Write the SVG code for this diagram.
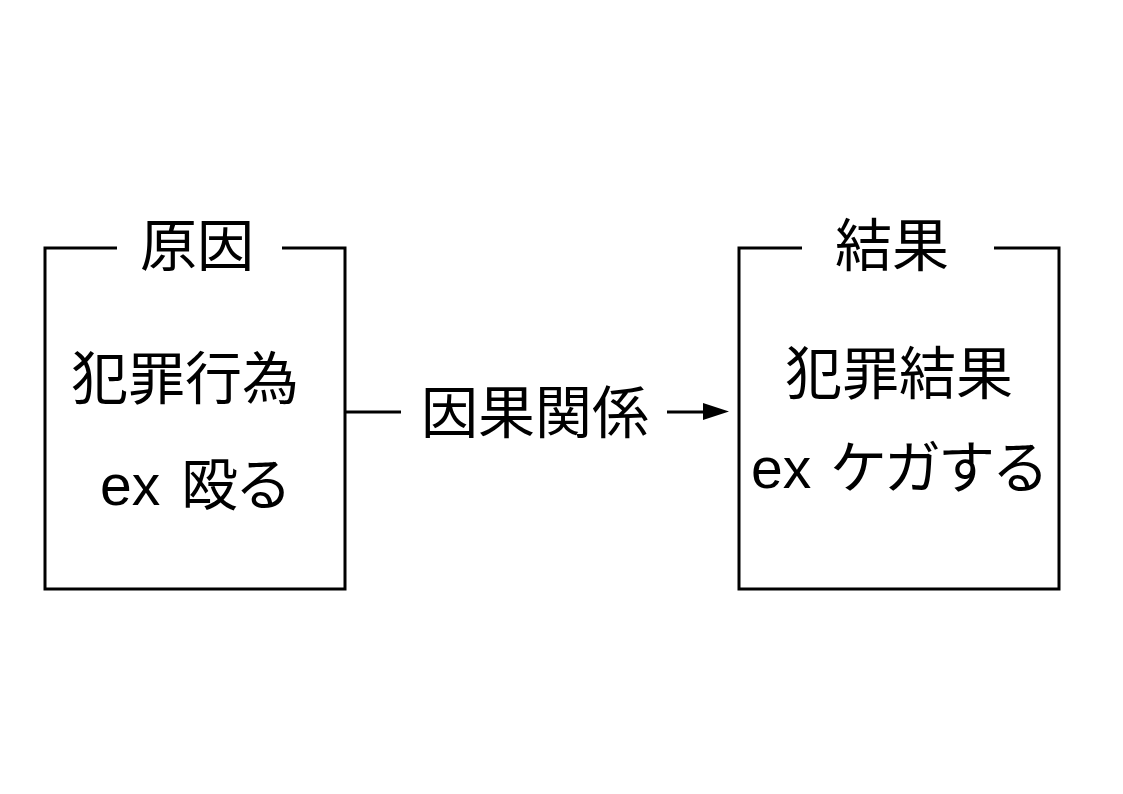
<svg xmlns="http://www.w3.org/2000/svg" width="1123" height="794" viewBox="0 0 1123 794">
<defs>
<style>
.ln{fill:none;stroke:#000;stroke-width:3;stroke-linejoin:miter}
.t{font-family:"Liberation Sans","Noto Sans CJK JP",sans-serif;font-size:57px;fill:#000;text-anchor:middle}
.s{text-anchor:start}
.k{letter-spacing:-3px}
</style>
</defs>
<rect width="1123" height="794" fill="#fff"/>
<g id="cause">
<path class="ln" d="M117,248 H45 V589 H345 V248 H282"/>
<text class="t" x="197" y="266">原因</text>
<text class="t" x="185" y="399">犯罪行為</text>
<text class="t s" x="100" y="505">ex<tspan class="k" x="181">殴る</tspan></text>
</g>
<g id="result">
<path class="ln" d="M802,248 H739 V589 H1059 V248 H994"/>
<text class="t" x="892" y="266">結果</text>
<text class="t" x="899" y="394">犯罪結果</text>
<text class="t s" x="751" y="488">ex<tspan class="k" x="830">ケガする</tspan></text>
</g>
<g id="connectors">
<line class="ln" x1="345" y1="412" x2="401" y2="412"/>
<path d="M667,412 H704" class="ln"/>
<path d="M703,403 L729,411.5 L703,420 z" fill="#000"/>
<text class="t" x="535" y="433">因果関係</text>
</g>
</svg>
